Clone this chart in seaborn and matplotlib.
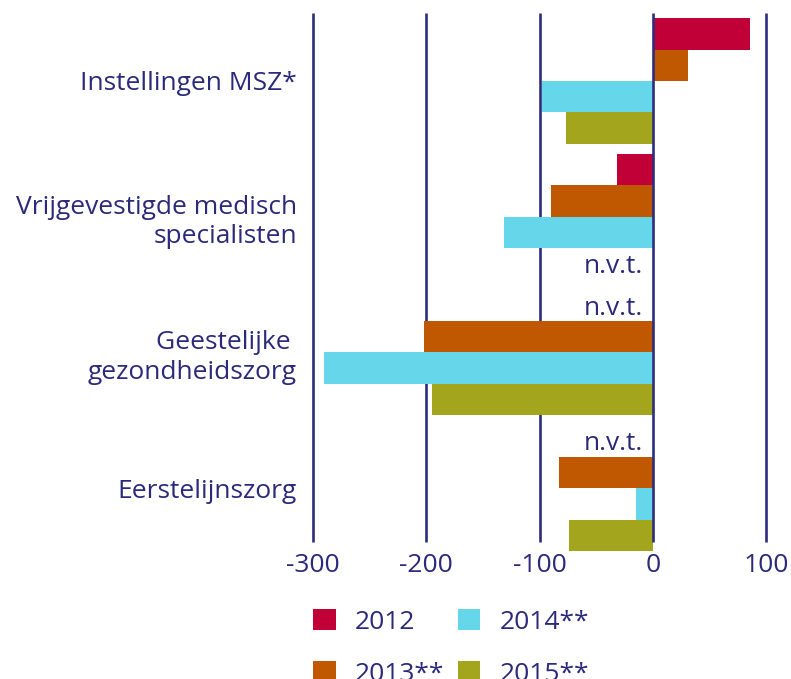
import numpy as np
import pandas as pd
import matplotlib
matplotlib.use("Agg")
import matplotlib.pyplot as plt
from matplotlib.patches import Patch
import seaborn as sns

# data (NaN = n.v.t.)
categories = ["Instellingen MSZ*", "Vrijgevestigde medisch\nspecialisten",
              "Geestelijke \ngezondheidszorg", "Eerstelijnszorg"]
years = ["2012", "2013**", "2014**", "2015**"]
v2012 = [86, -32, np.nan, np.nan]
v2013 = [31, -90, -202, -83]
v2014 = [-98, -131, -290, -15]
v2015 = [-77, np.nan, -195, -74]
xticks = [-300, -200, -100, 0, 100]

colors = ["#C00037", "#BF5800", "#66D7EA", "#A3A51C"]
navy = "#2B2A7A"
gridc = "#2E2D7D"

rows = []
for yr, vals in zip(years, [v2012, v2013, v2014, v2015]):
    for cat, v in zip(categories, vals):
        rows.append({"cat": cat, "year": yr, "value": v})
df = pd.DataFrame(rows)

sns.set_style("white")
plt.rcParams["font.family"] = ["Open Sans", "DejaVu Sans"]

fig = plt.figure(figsize=(7.91, 6.79), dpi=100)
W, H = 791, 679
y_top, y_bot = -0.501, 3.471
ax = fig.add_axes([313 / W, 1 - 552 / H, 453 / W, (552 - 13) / H])

group_w = 0.928
sns.barplot(data=df, y="cat", x="value", hue="year", order=categories,
            hue_order=years, palette=colors, orient="h", width=group_w,
            saturation=1, errorbar=None, legend=False, ax=ax, zorder=2,
            linewidth=0, edgecolor="none")

ax.set_xlim(xticks[0], xticks[-1])
ax.set_ylim(y_bot, y_top)

# vertical grid lines (zero line on top of the bars)
for t in xticks:
    ax.vlines(t, -0.5, 3.397, color=gridc, lw=1.9,
              zorder=4 if t == 0 else 1, clip_on=False)

for s in ax.spines.values():
    s.set_visible(False)

ax.set_xticks(xticks)
ax.set_xticklabels([str(t) for t in xticks])
ax.tick_params(axis="x", length=0, pad=1, labelsize=19, labelcolor=navy)
ax.tick_params(axis="y", length=0, pad=11.5, labelsize=19, labelcolor=navy)
for lab in ax.get_yticklabels():
    lab.set_multialignment("right")
    lab.set_linespacing(1.25)
ax.set_xlabel("")
ax.set_ylabel("")

# n.v.t. markers where there is no value
bw = group_w / len(years)
for j, vals in enumerate([v2012, v2013, v2014, v2015]):
    for i, v in enumerate(vals):
        if np.isnan(v):
            yy = i - group_w / 2 + bw * (j + 0.5)
            ax.annotate("n.v.t.", xy=(0, yy), xytext=(-7, 0),
                        textcoords="offset points", ha="right",
                        va="center_baseline", fontsize=19, color=navy)

handles = [Patch(facecolor=c, edgecolor="none") for c in colors]
leg = fig.legend(handles, years, ncol=2, loc="upper left",
                 bbox_to_anchor=(313 / W, 1 - 609 / H), frameon=False,
                 fontsize=19, handlelength=0.87, handleheight=0.87,
                 handletextpad=0.72, columnspacing=0.5, labelspacing=1.0,
                 borderpad=0, borderaxespad=0)
for t in leg.get_texts():
    t.set_color(navy)

fig.savefig("out.png", dpi=100)
